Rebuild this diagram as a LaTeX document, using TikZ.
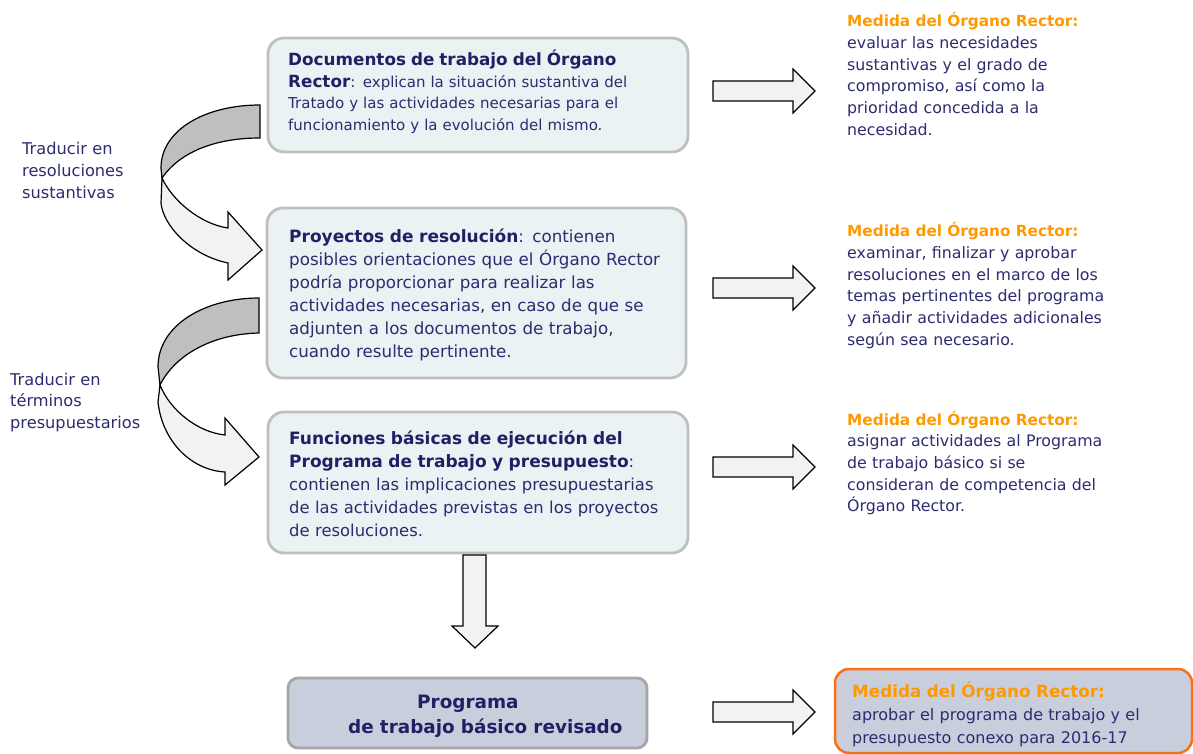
\documentclass[tikz,border=0pt]{standalone}
\usepackage{fontspec}
\setmainfont{DejaVu Sans}
\definecolor{navy}{RGB}{44,44,112}
\definecolor{navyb}{RGB}{32,32,100}
\definecolor{orhead}{RGB}{255,153,0}
\definecolor{orline}{RGB}{250,112,20}
\definecolor{boxfill}{RGB}{234,242,243}
\definecolor{boxline}{RGB}{191,191,191}
\definecolor{bfourfill}{RGB}{201,206,221}
\definecolor{bfourline}{RGB}{166,166,166}
\definecolor{arrfill}{RGB}{242,242,242}
\definecolor{arrgrey}{RGB}{191,191,191}
\newcommand\hbx[2]{{\fontsize{#1}{21}\selectfont\bfseries\color{navyb}#2}}
\newcommand\orhd[2]{{\fontsize{#1}{21}\selectfont\bfseries\color{orhead}#2}}
\begin{document}
\begin{tikzpicture}[x=1pt,y=-1pt,
  box/.style={draw=boxline, line width=2.8pt, fill=boxfill, rounded corners=16pt, inner sep=0pt},
  txt/.style={anchor=base west, inner sep=0pt, align=left, text=navy},
  blk/.style={draw=black, line width=1.2pt, fill=arrfill, line join=miter},
  blkg/.style={blk, fill=arrgrey}]
\useasboundingbox (0,0) rectangle (1193,754);

% main boxes
\node[box, minimum width=420pt, minimum height=114pt] (b1) at (478,95) {};
\node[box, minimum width=419pt, minimum height=170pt] (b2) at (476.5,293) {};
\node[box, minimum width=420pt, minimum height=141pt] (b3) at (478,482.5) {};
\node[draw=bfourline, line width=2.8pt, fill=bfourfill, rounded corners=10pt, minimum width=359pt, minimum height=70pt] (b4) at (467.5,713) {};
\node[draw=orline, line width=2.5pt, fill=bfourfill, rounded corners=14pt, minimum width=357pt, minimum height=84pt] (b5) at (1013.5,711) {};

% box texts
\node[txt, text width=390pt, font=\fontsize{15}{21.4}\selectfont] (t1) at (288,66)
 {\hbx{16.8}{Documentos de trabajo del Órgano\\Rector}: explican la situación sustantiva del\\Tratado y las actividades necesarias para el\\funcionamiento y la evolución del mismo.};
\node[txt, text width=390pt, font=\fontsize{16.7}{22.9}\selectfont] (t2) at (289,242.5)
 {\hbx{17}{Proyectos de resolución}: contienen\\posibles orientaciones que el Órgano Rector\\podría proporcionar para realizar las\\actividades necesarias, en caso de que se\\adjunten a los documentos de trabajo,\\cuando resulte pertinente.};
\node[txt, text width=390pt, font=\fontsize{16.4}{23}\selectfont] (t3) at (289,444)
 {\hbx{17}{Funciones básicas de ejecución del\\Programa de trabajo y presupuesto}:\\contienen las implicaciones presupuestarias\\de las actividades previstas en los proyectos\\de resoluciones.};
\node[txt, text width=330pt, text=navyb, font=\fontsize{18.4}{25}\selectfont\bfseries] (t4) at (348,708)
 {\hspace*{69pt}Programa\\de trabajo básico revisado};
\node[txt, text width=330pt, font=\fontsize{16}{22.7}\selectfont] (t5) at (852,697.7)
 {\orhd{16.8}{Medida del Órgano Rector:}\\aprobar el programa de trabajo y el\\presupuesto conexo para 2016-17};

% right texts
\node[txt, text width=340pt, font=\fontsize{15.8}{21.7}\selectfont] (r1) at (847,26.7)
 {\orhd{15.3}{Medida del Órgano Rector:}\\evaluar las necesidades\\sustantivas y el grado de\\compromiso, así como la\\prioridad concedida a la\\necesidad.};
\node[txt, text width=340pt, font=\fontsize{15.8}{21.7}\selectfont] (r2) at (847,236.7)
 {\orhd{15.3}{Medida del Órgano Rector:}\\examinar, finalizar y aprobar\\resoluciones en el marco de los\\temas pertinentes del programa\\y añadir actividades adicionales\\según sea necesario.};
\node[txt, text width=340pt, font=\fontsize{15.8}{21.7}\selectfont] (r3) at (847,425)
 {\orhd{15.3}{Medida del Órgano Rector:}\\asignar actividades al Programa\\de trabajo básico si se\\consideran de competencia del\\Órgano Rector.};

% left labels
\node[txt, text width=140pt, font=\fontsize{16.2}{21.7}\selectfont] (l1) at (22,155)
 {Traducir en\\resoluciones\\sustantivas};
\node[txt, text width=140pt, font=\fontsize{16.2}{21.7}\selectfont] (l2) at (10,385)
 {Traducir en\\términos\\presupuestarios};

% right block arrows
\foreach \c in {91,288,467,712}{
  \draw[blk] (713,\c-10) -- (793,\c-10) -- (793,\c-22) -- (815,\c) -- (793,\c+22) -- (793,\c+10) -- (713,\c+10) -- cycle;
}

% down arrow
\draw[blk] (463,555) -- (486,555) -- (486,626) -- (498,626) -- (475,648) -- (452,626) -- (463,626) -- cycle;

% curved arrow 1
\draw[blkg] (260,105) .. controls (205,105) and (161,130) .. (161,168) -- (162,178) .. controls (180,152) and (215,138) .. (260,138) -- cycle;
\draw[blk] (162,178) .. controls (172,200) and (200,224) .. (228,228) -- (228,212) -- (262,250) -- (228,280) -- (228,263) .. controls (190,255) and (163,225) .. (161,203) -- cycle;

% curved arrow 2
\draw[blkg] (259,298) .. controls (205,298) and (158,325) .. (158,367) -- (160,385) .. controls (175,355) and (212,334) .. (259,333) -- cycle;
\draw[blk] (160,385) .. controls (170,410) and (197,432) .. (225,435) -- (225,418) -- (259,457) -- (225,485) -- (225,472) .. controls (190,470) and (162,440) .. (158,402) -- cycle;
\end{tikzpicture}
\end{document}
